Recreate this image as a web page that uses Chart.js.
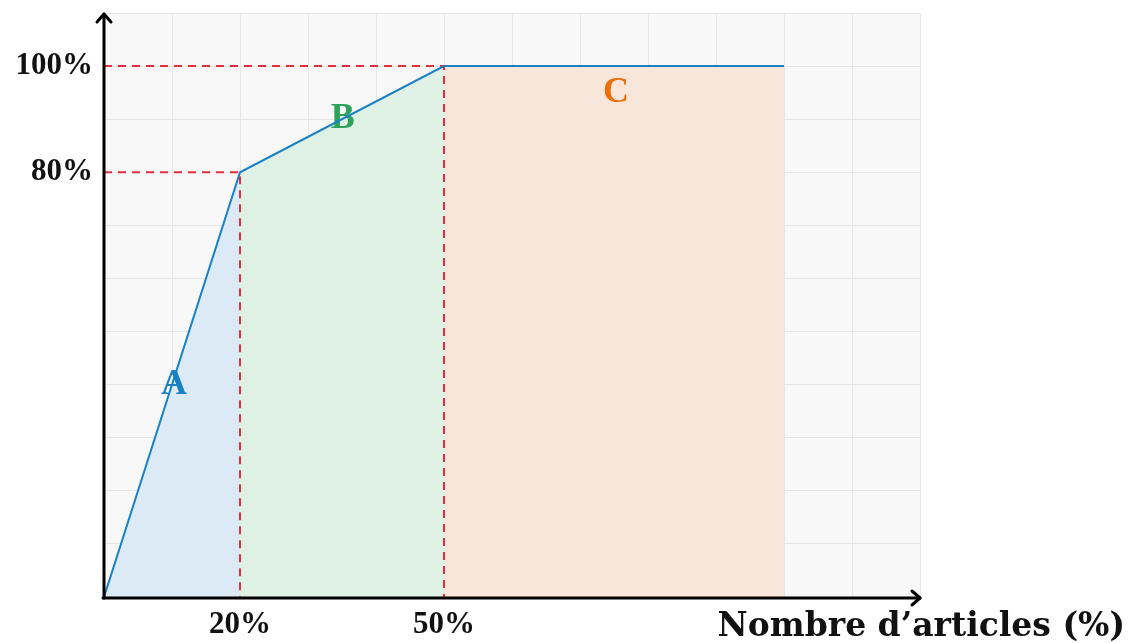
<!DOCTYPE html>
<html>
<head>
<meta charset="utf-8">
<script src="https://cdn.jsdelivr.net/npm/chart.js@4.4.1/dist/chart.umd.min.js"></script>
<style>
html,body{margin:0;padding:0;background:#fff;}
#wrap{width:1128px;height:643px;}
</style>
</head>
<body>
<div id="wrap"><canvas id="c" width="1128" height="643"></canvas></div>
<script>
// ---- data ----
const curveX = [0, 20, 50, 100];
const curveY = [0, 80, 100, 100];
const classNames = ['A', 'B', 'C'];
const classColors = ['#1a80c4', '#2ca25a', '#e8700f'];
const classFills = ['#dbeaf5', '#dff1e5', '#f9e6da'];
const classLabelX = [10.3, 35.1, 75.3];
const classLabelY = [40, 90, 95];
const xTickLabels = [20, 50];
const yTickLabels = [80, 100];
const xAxisTitle = "Nombre d\u2019articles (%)";
const yAxisTitle = "Valeur (%)";

const pts = curveX.map((x, i) => ({x: x, y: curveY[i]}));

const datasets = [];
for (let i = 0; i < classNames.length; i++) {
  datasets.push({
    label: classNames[i],
    data: [pts[i], pts[i + 1]],
    borderColor: 'rgba(0,0,0,0)',
    borderWidth: 0,
    backgroundColor: classFills[i],
    fill: 'origin',
    pointRadius: 0,
    order: 5
  });
}
const thresholds = [pts[1], pts[2]];
thresholds.forEach(p => {
  datasets.push({
    label: 'seuil',
    data: [{x: 0, y: p.y}, {x: p.x, y: p.y}, {x: p.x, y: 0}],
    borderColor: '#e0303f',
    borderWidth: 2,
    borderDash: [8, 6],
    fill: false,
    pointRadius: 0,
    order: 3
  });
});
const curveIndex = datasets.length;
datasets.push({
  label: 'courbe',
  data: pts,
  borderColor: '#1a80c4',
  borderWidth: 2,
  fill: false,
  pointRadius: 0,
  tension: 0,
  order: 1
});

const serif = '"Liberation Serif", "DejaVu Serif", serif';

const overlay = {
  id: 'overlay',
  beforeDraw(chart) {
    const {ctx, chartArea: a} = chart;
    ctx.save();
    ctx.fillStyle = '#ffffff';
    ctx.fillRect(0, 0, chart.width, chart.height);
    ctx.fillStyle = '#f8f8f8';
    ctx.fillRect(a.left, a.top, a.right - a.left, a.bottom - a.top);
    ctx.restore();
  },
  beforeDatasetDraw(chart, args) {
    if (args.index !== curveIndex) return;
    const {ctx, scales: {x, y}} = chart;
    ctx.save();
    ctx.font = 'bold 36px ' + serif;
    ctx.textAlign = 'center';
    ctx.textBaseline = 'middle';
    classNames.forEach((n, i) => {
      ctx.fillStyle = classColors[i];
      ctx.fillText(n, x.getPixelForValue(classLabelX[i]), y.getPixelForValue(classLabelY[i]));
    });
    ctx.restore();
  },
  afterDraw(chart) {
    const {ctx, chartArea: a, scales: {x, y}} = chart;
    const x0 = x.getPixelForValue(0), y0 = y.getPixelForValue(0);
    ctx.save();
    ctx.strokeStyle = '#000';
    ctx.lineWidth = 3;
    ctx.lineCap = 'round';
    ctx.lineJoin = 'round';
    ctx.beginPath();
    ctx.moveTo(x0, y0 + 1);
    ctx.lineTo(x0, a.top + 1);
    ctx.stroke();
    ctx.beginPath();
    ctx.moveTo(x0 - 7, a.top + 9);
    ctx.lineTo(x0, a.top + 1);
    ctx.lineTo(x0 + 7, a.top + 9);
    ctx.stroke();
    ctx.beginPath();
    ctx.moveTo(x0 - 1, y0 + 1);
    ctx.lineTo(a.right, y0 + 1);
    ctx.stroke();
    ctx.beginPath();
    ctx.moveTo(a.right - 8, y0 - 6);
    ctx.lineTo(a.right, y0 + 1);
    ctx.lineTo(a.right - 8, y0 + 8);
    ctx.stroke();
    ctx.fillStyle = '#111';
    ctx.font = 'bold 33px "DejaVu Serif", serif';
    ctx.textAlign = 'right';
    ctx.textBaseline = 'alphabetic';
    ctx.fillText(xAxisTitle, 1125, 636);
    ctx.fillStyle = '#aaa';
    ctx.fillText(yAxisTitle, 378, -5);
    ctx.restore();
  }
};

new Chart(document.getElementById('c'), {
  type: 'line',
  data: {datasets: datasets},
  options: {
    responsive: false,
    animation: false,
    events: [],
    layout: {padding: {top: 13, right: 208, left: 0, bottom: 0}},
    plugins: {legend: {display: false}, tooltip: {enabled: false}, title: {display: false}},
    scales: {
      x: {
        type: 'linear',
        min: 0, max: 120,
        afterFit: s => { s.height = 46; s.paddingLeft = 0; s.paddingRight = 0; },
        border: {display: false},
        grid: {color: '#e6e6e6', lineWidth: 1, drawTicks: false},
        ticks: {
          stepSize: 10, autoSkip: false, maxRotation: 0, padding: 9,
          color: '#111',
          font: {family: serif, size: 31, weight: 'bold'},
          callback: v => xTickLabels.includes(v) ? v + '%' : ''
        }
      },
      y: {
        type: 'linear',
        min: 0, max: 110,
        afterFit: s => { s.width = 104; s.paddingTop = 0; s.paddingBottom = 0; },
        border: {display: false},
        grid: {color: '#e6e6e6', lineWidth: 1, drawTicks: false},
        ticks: {
          stepSize: 10, autoSkip: false, padding: 11,
          color: '#111',
          font: {family: serif, size: 31, weight: 'bold'},
          callback: v => yTickLabels.includes(v) ? v + '%' : ''
        }
      }
    }
  },
  plugins: [overlay]
});
</script>
</body>
</html>
